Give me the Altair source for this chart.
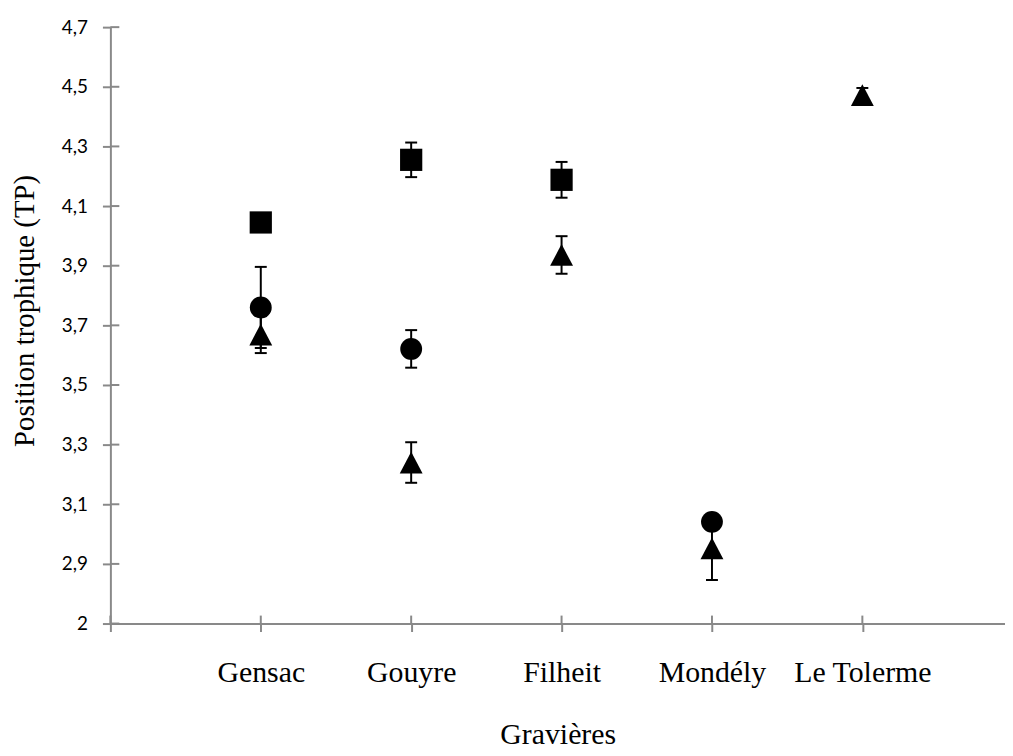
import altair as alt
import pandas as pd

# ---- data ----
sites = ["Gensac", "Gouyre", "Filheit", "Mondély", "Le Tolerme"]

square_sites = ["Gensac", "Gouyre", "Filheit"]
square_mean = [4.045, 4.255, 4.188]
square_se = [0.030, 0.058, 0.060]

circle_sites = ["Gensac", "Gouyre", "Mondély"]
circle_mean = [3.760, 3.621, 3.041]
circle_se = [0.136, 0.063, 0.020]

triangle_sites = ["Gensac", "Gouyre", "Filheit", "Mondély", "Le Tolerme"]
triangle_mean = [3.669, 3.240, 3.936, 2.952, 4.472]
triangle_se = [0.062, 0.068, 0.063, 0.106, 0.024]

y_tick_values = [2.7, 2.9, 3.1, 3.3, 3.5, 3.7, 3.9, 4.1, 4.3, 4.5, 4.7]
x_tick_values = [0, 1, 2, 3, 4, 5]


def frame(site_list, means, ses, series):
    return pd.DataFrame({
        "site": site_list,
        "pos": [sites.index(s) + 1 for s in site_list],
        "mean": means,
        "lo": [m - s for m, s in zip(means, ses)],
        "hi": [m + s for m, s in zip(means, ses)],
        "series": series,
    })


df_sq = frame(square_sites, square_mean, square_se, "carré")
df_ci = frame(circle_sites, circle_mean, circle_se, "cercle")
df_tr = frame(triangle_sites, triangle_mean, triangle_se, "triangle")
df_all = pd.concat([df_sq, df_ci, df_tr], ignore_index=True)

W, H = 900, 600
AXIS_GRAY = "#898989"

xscale = alt.Scale(domain=[0, W / 151.3], nice=False, zero=False)
yscale = alt.Scale(domain=[2.7, 4.7], nice=False, zero=False)

x_label_expr = "[''," + ",".join("'" + s + "'" for s in sites) + "][datum.value]"
y_label_expr = "datum.value < 2.8 ? '2' : replace(format(datum.value, '.1f'), '.', ',')"

xaxis = alt.Axis(
    values=x_tick_values, labelExpr=x_label_expr,
    labelFont="Liberation Serif", labelFontSize=30, labelColor="black",
    labelPadding=50, labelBaseline="alphabetic", labelFlush=False, labelOverlap=False,
    title="Gravières", titleFont="Liberation Serif", titleFontSize=30,
    titleFontWeight="normal", titleColor="black", titleBaseline="alphabetic",
    titleY=121,
    tickSize=8, tickColor=AXIS_GRAY, tickWidth=2,
    domainColor=AXIS_GRAY, domainWidth=2, grid=False,
)
yaxis = alt.Axis(
    values=y_tick_values, labelExpr=y_label_expr,
    labelFont="Lato", labelFontSize=19, labelColor="black", labelPadding=15,
    labelFlush=False, labelOverlap=False,
    title="Position trophique (TP)", titleFont="Liberation Serif", titleFontSize=29,
    titleFontWeight="normal", titleColor="black", titleAngle=270,
    titleBaseline="alphabetic", titleAlign="center", titleX=-77, titleY=285,
    tickSize=8, tickColor=AXIS_GRAY, tickWidth=2,
    domainColor=AXIS_GRAY, domainWidth=2, grid=False,
)

X = alt.X("pos:Q", scale=xscale, axis=xaxis)

# inner halves of the cross tick marks
y_inner = alt.Chart(pd.DataFrame({"v": y_tick_values})).mark_rule(
    color=AXIS_GRAY, strokeWidth=2
).encode(y=alt.Y("v:Q", scale=yscale, axis=yaxis), x=alt.value(0), x2=alt.value(9))

x_inner = alt.Chart(pd.DataFrame({"v": x_tick_values})).mark_rule(
    color=AXIS_GRAY, strokeWidth=2
).encode(x=alt.X("v:Q", scale=xscale, axis=xaxis), y=alt.value(H - 8), y2=alt.value(H))

# error bars
err_base = alt.Chart(df_all)
err_line = err_base.mark_rule(color="black", strokeWidth=2).encode(
    x=X, y=alt.Y("lo:Q", scale=yscale, axis=yaxis), y2="hi:Q"
)
cap_lo = err_base.mark_tick(orient="horizontal", size=12, thickness=2, color="black", opacity=1).encode(
    x=X, y=alt.Y("lo:Q", scale=yscale, axis=yaxis)
)
cap_hi = err_base.mark_tick(orient="horizontal", size=12, thickness=2, color="black", opacity=1).encode(
    x=X, y=alt.Y("hi:Q", scale=yscale, axis=yaxis)
)


def points(df, shape, size):
    return alt.Chart(df).mark_point(
        shape=shape, size=size, filled=True, color="black", opacity=1, strokeWidth=0
    ).encode(x=X, y=alt.Y("mean:Q", scale=yscale, axis=yaxis))


pts_sq = points(df_sq, "square", 500)
pts_ci = points(df_ci, "circle", 484)
pts_tr = points(df_tr, "M0,-0.95L1,0.95L-1,0.95Z", 529)

chart = alt.layer(
    y_inner, x_inner, err_line, cap_lo, cap_hi, pts_sq, pts_ci, pts_tr
).properties(
    width=W, height=H,
    autosize=alt.AutoSizeParams(type="none"),
    padding={"left": 103, "top": 17, "right": 0, "bottom": 131},
    background="white",
).configure_view(stroke=None)

chart.save("out.html", embed_options={"renderer": "svg", "actions": False})
